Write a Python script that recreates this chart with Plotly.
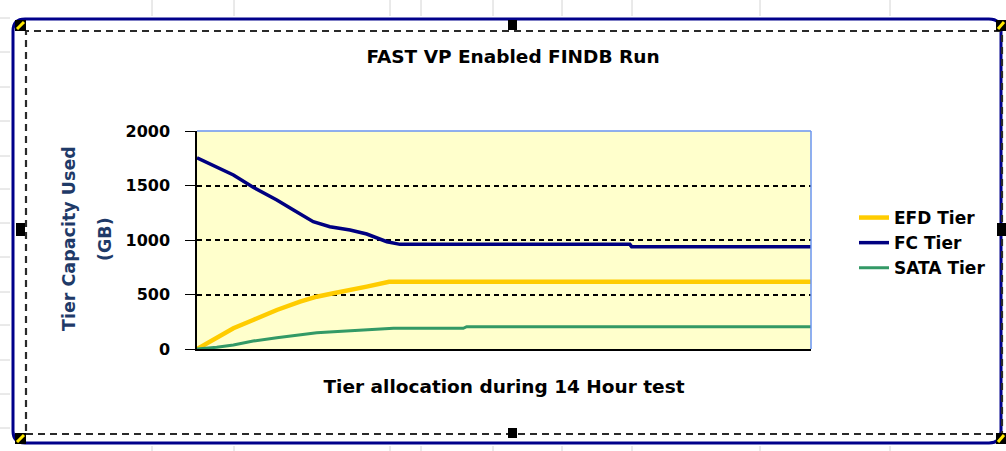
import plotly.graph_objects as go

# ---------------- data ----------------
series_names = ["EFD Tier", "FC Tier", "SATA Tier"]

efd_hours = [0, 0.45, 0.83, 1.28, 1.82, 2.35, 2.73, 3.11, 3.56, 3.87, 4.38, 14]
efd_gb = [0, 98, 190, 266, 358, 434, 480, 511, 541, 572, 617, 617]

fc_hours = [0, 0.83, 1.28, 1.82, 2.20, 2.65, 3.03, 3.49, 3.87, 4.33, 4.63, 9.87, 9.91, 14]
fc_gb = [1755, 1596, 1483, 1367, 1275, 1168, 1122, 1092, 1055, 984, 960, 960, 939, 939]

sata_hours = [0, 0.45, 0.83, 1.28, 1.82, 2.35, 2.73, 3.11, 3.87, 4.48, 6.07, 6.15, 14]
sata_gb = [0, 16, 37, 73, 104, 128, 150, 159, 174, 190, 190, 205, 205]

y_ticks = [0, 500, 1000, 1500, 2000]

title_text = "FAST VP Enabled FINDB Run"
x_title = "Tier allocation during 14 Hour test"
y_title_lines = ["Tier Capacity Used", "(GB)"]

# ---------------- layout helpers ----------------
W, H = 1006, 451
L, R, T, B = 197, 811, 131, 349
FONT = "DejaVu Sans"


def px(x):
    return (x - L) / (R - L)


def py(y):
    return (B - y) / (B - T)


fig = go.Figure()
fig.add_trace(go.Scatter(x=efd_hours, y=efd_gb, name=series_names[0], mode="lines",
                         line=dict(color="#FFCC00", width=4.5)))
fig.add_trace(go.Scatter(x=fc_hours, y=fc_gb, name=series_names[1], mode="lines",
                         line=dict(color="#000080", width=3.5)))
fig.add_trace(go.Scatter(x=sata_hours, y=sata_gb, name=series_names[2], mode="lines",
                         line=dict(color="#339966", width=3)))

shapes = []
# plot-area top/right border (light blue)
shapes.append(dict(type="line", xref="paper", yref="paper", x0=0, x1=1, y0=1, y1=1,
                   line=dict(color="#6A95F0", width=1.5), layer="above"))
shapes.append(dict(type="line", xref="paper", yref="paper", x0=1, x1=1, y0=0, y1=1,
                   line=dict(color="#6A95F0", width=1.5), layer="above"))

# spreadsheet cell gridlines visible outside the chart
for cx in [152, 234, 390, 421, 493, 562, 632, 760, 890]:
    shapes.append(dict(type="line", xref="paper", yref="paper", x0=px(cx), x1=px(cx),
                       y0=py(0), y1=py(16), line=dict(color="#D4D4D4", width=1)))
    shapes.append(dict(type="line", xref="paper", yref="paper", x0=px(cx), x1=px(cx),
                       y0=py(446), y1=py(451), line=dict(color="#D4D4D4", width=1)))
for ry in [18, 52, 87, 121, 156, 189, 223, 257, 292, 325, 360, 394, 428]:
    shapes.append(dict(type="line", xref="paper", yref="paper", x0=px(0), x1=px(10),
                       y0=py(ry), y1=py(ry), line=dict(color="#D4D4D4", width=1)))

# rounded chart-area border (navy)
x0, x1, y0, y1, r = 13, 1001, 19, 443, 12
pts = [
    ("M", (x0 + r, y0)), ("L", (x1 - r, y0)), ("Q", (x1, y0), (x1, y0 + r)),
    ("L", (x1, y1 - r)), ("Q", (x1, y1), (x1 - r, y1)), ("L", (x0 + r, y1)),
    ("Q", (x0, y1), (x0, y1 - r)), ("L", (x0, y0 + r)), ("Q", (x0, y0), (x0 + r, y0)),
]
path = ""
for seg in pts:
    cmd = seg[0]
    coords = " ".join(f"{px(p[0]):.5f},{py(p[1]):.5f}" for p in seg[1:])
    path += f"{cmd} {coords} "
path += "Z"
shapes.append(dict(type="path", xref="paper", yref="paper", path=path,
                   line=dict(color="#00008B", width=3)))

# dashed selection box
shapes.append(dict(type="rect", xref="paper", yref="paper", x0=px(26), x1=px(1002),
                   y0=py(434), y1=py(31), line=dict(color="#2A2A2A", width=2.2, dash="7px,5px")))

# selection handles
for (hx0, hy0, hx1, hy1) in [(508, 20, 517, 30), (508, 428, 517, 438), (16, 223, 25, 236), (997, 223, 1006, 236)]:
    shapes.append(dict(type="rect", xref="paper", yref="paper", x0=px(hx0), x1=px(hx1),
                       y0=py(hy1), y1=py(hy0), fillcolor="black", line=dict(width=0)))
for (hx0, hy0, hx1, hy1) in [(15, 20, 26, 31), (15, 433, 26, 444), (996, 20, 1006, 31), (996, 433, 1006, 444)]:
    shapes.append(dict(type="rect", xref="paper", yref="paper", x0=px(hx0), x1=px(hx1),
                       y0=py(hy1), y1=py(hy0), fillcolor="black", line=dict(width=0)))
    shapes.append(dict(type="line", xref="paper", yref="paper", x0=px(hx0 + 2), x1=px(hx1 - 2),
                       y0=py(hy1 - 2), y1=py(hy0 + 2), line=dict(color="#FFE800", width=3)))

annotations = []
for i, (lx, txt) in enumerate(zip([69, 105], y_title_lines)):
    annotations.append(dict(text=txt, xref="paper", yref="paper", x=px(lx), y=py(239),
                            xanchor="center", yanchor="middle", textangle=-90, showarrow=False,
                            font=dict(family=FONT, size=17.5, weight="bold", color="#1F3A68")))

fig.update_layout(
    width=W, height=H,
    margin=dict(l=L, r=W - R, t=T, b=H - B, pad=0),
    paper_bgcolor="white",
    plot_bgcolor="#FFFFCC",
    title=dict(text=title_text, x=513 / W, y=1 - 57 / H, xanchor="center", yanchor="middle",
               font=dict(family=FONT, size=18.5, weight="bold", color="black")),
    xaxis=dict(range=[0, 14], showticklabels=False, ticks="", showgrid=False, zeroline=False,
               showline=True, linecolor="black", linewidth=1.5,
               title=dict(text=x_title, standoff=30,
                          font=dict(family=FONT, size=18.5, weight="bold", color="black"))),
    yaxis=dict(range=[0, 2000], tickvals=y_ticks, ticktext=[str(v) for v in y_ticks],
               ticks="outside", ticklen=10, tickcolor="black", tickwidth=1,
               showline=True, linecolor="black", linewidth=1.5,
               showgrid=True, gridcolor="black", gridwidth=1.5, griddash="5px,4px",
               zeroline=False, ticklabelstandoff=12,
               tickfont=dict(family=FONT, size=16, weight="bold", color="black")),
    legend=dict(x=px(854), y=py(200), xanchor="left", yanchor="top",
                bgcolor="rgba(0,0,0,0)", borderwidth=0,
                font=dict(family=FONT, size=17, weight="bold", color="black")),
    shapes=shapes,
    annotations=annotations,
    showlegend=True,
)

fig.write_html("out.html", config={"displayModeBar": False},
               post_script="document.body.style.margin='0';document.body.style.overflow='hidden';")
